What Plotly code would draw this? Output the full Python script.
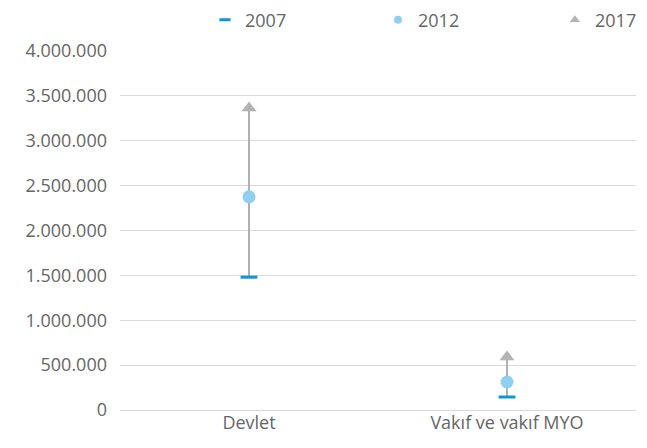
import plotly.graph_objects as go

categories = ["Devlet", "Vakıf ve vakıf MYO"]
years = ["2007", "2012", "2017"]
v2007 = [1480000, 145000]
v2012 = [2375000, 312000]
v2017 = [3365000, 590000]
yticks = [0, 500000, 1000000, 1500000, 2000000, 2500000, 3000000, 3500000, 4000000]

TXT = "#666666"
C07, C12, C17, CLINE = "#0a97d9", "#8fcff0", "#b4b4b6", "#b0b0b4"

fig = go.Figure()

# connecting range lines
lx, ly = [], []
for c, a, b in zip(categories, v2007, v2017):
    lx += [c, c, None]
    ly += [a, b, None]
fig.add_trace(go.Scatter(x=lx, y=ly, mode="lines", line=dict(color=CLINE, width=2),
                         showlegend=False, hoverinfo="skip"))

fig.add_trace(go.Scatter(x=categories, y=v2007, mode="markers", name=years[0], showlegend=False,
                         marker=dict(symbol="line-ew", size=12, color=C07,
                                     line=dict(color=C07, width=3))))
fig.add_trace(go.Scatter(x=categories, y=v2012, mode="markers", name=years[1], showlegend=False,
                         marker=dict(symbol="circle", size=13, color=C12)))
fig.add_trace(go.Scatter(x=categories, y=v2017, mode="markers", name=years[2], showlegend=False,
                         marker=dict(symbol="triangle-up", size=13, color=C17)))

# legend-only entries with smaller symbols
fig.add_trace(go.Scatter(x=[None], y=[None], mode="markers", name=years[0], legend="legend",
                         marker=dict(symbol="line-ew", size=8, color=C07, line=dict(color=C07, width=3))))
fig.add_trace(go.Scatter(x=[None], y=[None], mode="markers", name=years[1], legend="legend2",
                         marker=dict(symbol="circle", size=8, color=C12)))
fig.add_trace(go.Scatter(x=[None], y=[None], mode="markers", name=years[2], legend="legend3",
                         marker=dict(symbol="triangle-up", size=9, color=C17)))

OFF = 8  # default page body margin
FW, FH = 647 - OFF, 448 - OFF
PL, PT, PR, PB = 120, 51, 636, 410  # plot area in page pixels
W, H = PR - PL, PB - PT

def lg(px):
    return dict(x=(px - PL) / W, xanchor="left", y=1.0 + (PT - 20) / H, yanchor="middle",
                orientation="h", font=dict(size=18, color=TXT),
                bgcolor="rgba(0,0,0,0)", itemsizing="trace")

fig.update_layout(
    width=FW, height=FH,
    margin=dict(l=PL - OFF, r=FW - (PR - OFF), t=PT - OFF, b=FH - (PB - OFF), autoexpand=False),
    paper_bgcolor="white", plot_bgcolor="white",
    separators=",.",
    font=dict(family="Open Sans", size=18, color=TXT),
    showlegend=True,
    legend=lg(205), legend2=lg(378), legend3=lg(555),
    xaxis=dict(type="category", range=[-0.5, 1.5], showgrid=False, showline=False, ticks="",
               tickfont=dict(size=18, color=TXT)),
    yaxis=dict(range=[0, 4000000], tickvals=yticks, tickformat=",d",
               showgrid=True, gridcolor="#d9d9d9", gridwidth=1, zeroline=True,
               zerolinecolor="#d9d9d9", zerolinewidth=1, showline=False, ticks="",
               ticklabelstandoff=12,
               tickfont=dict(size=18, color=TXT)),
)

fig.write_html("out.html")
